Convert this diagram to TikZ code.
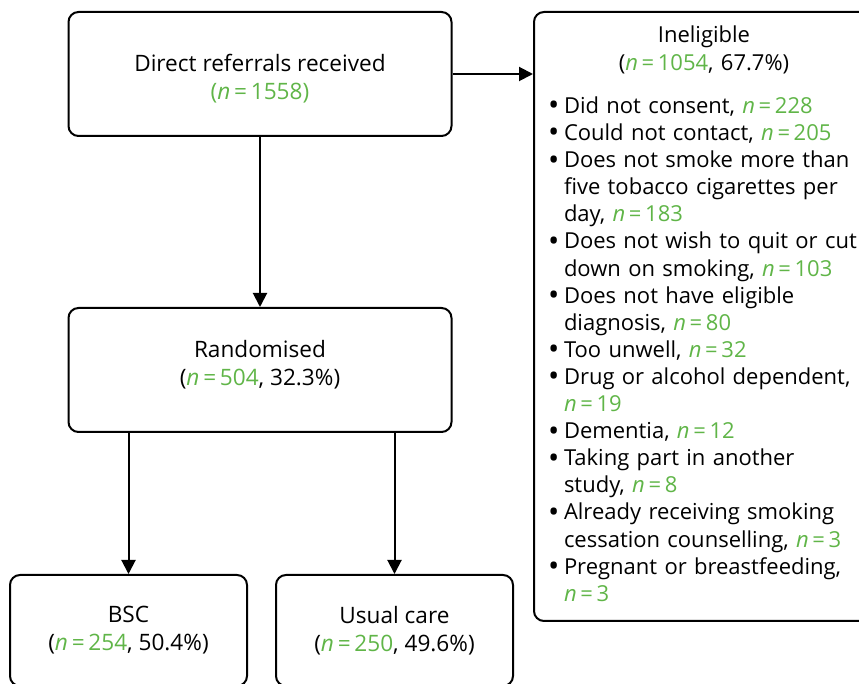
\documentclass[tikz,border=0pt]{standalone}
\usepackage{fontspec}
\setmainfont{Open Sans}
\usetikzlibrary{positioning,arrows.meta}
\definecolor{countgreen}{RGB}{96,181,72}
\newcommand{\nval}[1]{{\color{countgreen}\textit{n}\,=\,#1}}
\newcommand{\exitem}[1]{\par\hangindent=8pt\hangafter=1\noindent
  \makebox[8pt][l]{\raisebox{-0.2ex}{\fontsize{15}{15}\selectfont\textbullet}}#1}
\tikzset{
  flow box/.style={draw, line width=1pt, rounded corners=5pt, align=center, inner sep=0pt,
    font=\fontsize{11.3}{14}\selectfont},
  main box/.style={flow box, minimum width=191.5pt, minimum height=62pt},
  arm box/.style={flow box, minimum width=118.5pt, minimum height=55.5pt},
  excl box/.style={flow box, align=left, text width=165pt, inner xsep=7pt, minimum height=304.5pt,
    font=\fontsize{11}{13.55}\selectfont},
  flow arrow/.style={line width=1pt, -{Triangle[width=7pt,length=7pt]}},
}
\begin{document}
\begin{tikzpicture}[x=0.5pt,y=-0.5pt]
\useasboundingbox (0,0) rectangle (859,684);
% the boxes
\node [main box] (top) at (260,74) {\rule{0pt}{13.5pt}Direct referrals received\\{\color{countgreen}(\textit{n}\,=\,1558)}};
\node [main box,below=85pt of top] (rand) {Randomised\\(\nval{504}, 32.3\%)\rule[-7.5pt]{0pt}{1pt}};
\node [arm box] (bsc) at (128.5,630.5) {BSC\\(\nval{254}, 50.4\%)};
\node [arm box] (usual) at (394.5,630.5) {Usual care\\(\nval{250}, 49.6\%)};
\node [excl box,anchor=north west] (inel) at (533,11) {%
  {\centering\rightskip=9pt plus 1fil Ineligible\\[0.4pt](\nval{1054}, 67.7\%)\par}\vspace{8pt}%
  \exitem{Did not consent, \nval{228}}
  \exitem{Could not contact, \nval{205}}
  \exitem{Does not smoke more than\newline five tobacco cigarettes per\newline day, \nval{183}}
  \exitem{Does not wish to quit or cut\newline down on smoking, \nval{103}}
  \exitem{Does not have eligible\newline diagnosis, \nval{80}}
  \exitem{Too unwell, \nval{32}}
  \exitem{Drug or alcohol dependent,\newline \nval{19}}
  \exitem{Dementia, \nval{12}}
  \exitem{Taking part in another\newline study, \nval{8}}
  \exitem{Already receiving smoking\newline cessation counselling, \nval{3}}
  \exitem{Pregnant or breastfeeding,\newline \nval{3}\rule[-3pt]{0pt}{1pt}}\par};
% the arrows
\draw[flow arrow] (top) -- (rand);
\draw[flow arrow] (top.east) -- (top.east -| inel.west);
\draw[flow arrow] (rand.south -| bsc.north) -- (bsc.north);
\draw[flow arrow] (rand.south -| usual.north) -- (usual.north);
\end{tikzpicture}
\end{document}
